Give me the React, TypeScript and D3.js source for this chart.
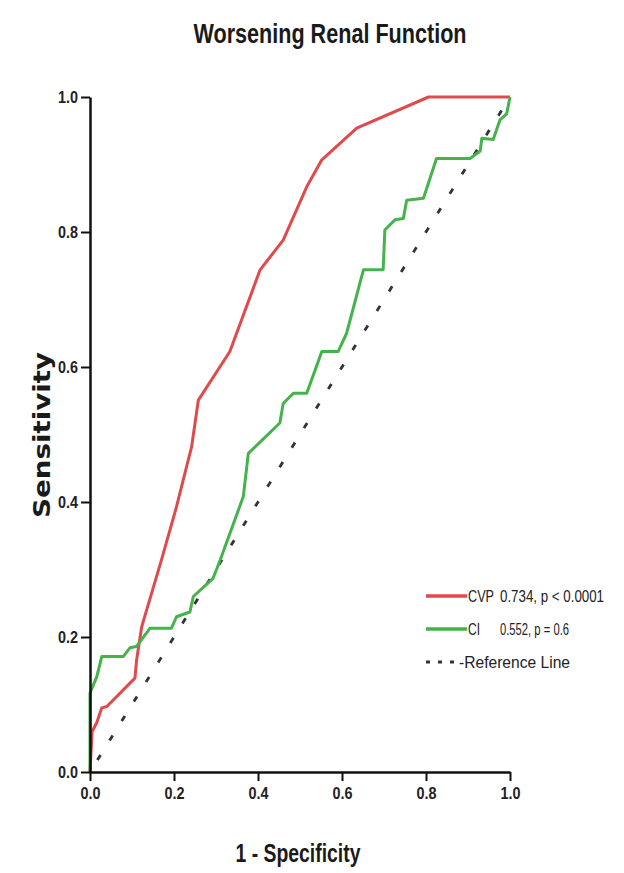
import React, { useEffect, useRef } from "react";
import * as d3 from "d3";

// ROC points
const cvpFpr = [0, 0.005, 0.016, 0.028, 0.04, 0.107, 0.111, 0.123, 0.17, 0.206, 0.242, 0.258, 0.333, 0.405, 0.46, 0.516, 0.552, 0.635, 0.806, 1.0];
const cvpTpr = [0, 0.06, 0.073, 0.095, 0.097, 0.139, 0.166, 0.215, 0.314, 0.393, 0.482, 0.551, 0.623, 0.744, 0.788, 0.867, 0.907, 0.954, 1.0, 1.0];

const ciFpr = [0, 0, 0.016, 0.028, 0.079, 0.095, 0.111, 0.143, 0.194, 0.206, 0.238, 0.246, 0.293, 0.31, 0.365, 0.377, 0.452, 0.46, 0.484, 0.516, 0.552, 0.591, 0.611, 0.651, 0.698, 0.702, 0.726, 0.746, 0.754, 0.794, 0.825, 0.905, 0.929, 0.933, 0.96, 0.976, 0.992, 1.0];
const ciTpr = [0, 0.117, 0.141, 0.171, 0.171, 0.184, 0.186, 0.213, 0.213, 0.23, 0.237, 0.26, 0.287, 0.314, 0.408, 0.472, 0.517, 0.546, 0.561, 0.561, 0.623, 0.623, 0.65, 0.744, 0.744, 0.803, 0.818, 0.82, 0.847, 0.85, 0.909, 0.909, 0.92, 0.939, 0.937, 0.966, 0.975, 1.0];

const refLine = [0, 1];
const ticks = [0, 0.2, 0.4, 0.6, 0.8, 1.0];

const legendNames = ["CVP", "CI", "Reference Line"];
const legendStats = ["0.734, p < 0.0001", "0.552, p = 0.6", ""];

const RED = "#e04a4c";
const GREEN = "#45b34b";
const sans = "'Liberation Sans', Arial, sans-serif";

const App = () => {
  const xAxisRef = useRef<SVGGElement>(null);
  const yAxisRef = useRef<SVGGElement>(null);

  const x = d3.scaleLinear().domain([0, 1]).range([90, 510]);
  const y = d3.scaleLinear().domain([0, 1]).range([772, 97]);

  const line = d3
    .line<[number, number]>()
    .x((d) => x(d[0]))
    .y((d) => y(d[1]));

  const cvp = cvpFpr.map((v, i) => [v, cvpTpr[i]] as [number, number]);
  const ci = ciFpr.map((v, i) => [v, ciTpr[i]] as [number, number]);
  const ref = refLine.map((v) => [v, v] as [number, number]);

  useEffect(() => {
    const fmt = d3.format(".1f");
    const xa = d3.select(xAxisRef.current);
    xa.call(d3.axisBottom(x).tickValues(ticks).tickFormat(fmt as any).tickSize(9).tickSizeOuter(0).tickPadding(7));
    const ya = d3.select(yAxisRef.current);
    ya.call(d3.axisLeft(y).tickValues(ticks).tickFormat(fmt as any).tickSize(9).tickSizeOuter(0).tickPadding(3));
    [xa, ya].forEach((g) => {
      g.select(".domain").attr("stroke", "#111").attr("stroke-width", 2.5);
      g.selectAll(".tick line").attr("stroke", "#111").attr("stroke-width", 2);
      g.selectAll(".tick text")
        .attr("fill", "#222")
        .attr("textLength", 20)
        .attr("lengthAdjust", "spacingAndGlyphs")
        .style("font-family", sans)
        .style("font-weight", "bold")
        .style("font-size", "16px");
    });
  }, []);

  return (
    <div style={{ position: "absolute", left: 0, top: 0 }}>
      <svg width={624} height={873} style={{ display: "block", background: "#fff" }}>
        <text
          x={330}
          y={43}
          textAnchor="middle"
          fontFamily={sans}
          fontWeight="bold"
          fontSize={28}
          textLength={273}
          lengthAdjust="spacingAndGlyphs"
          fill="#1a1a1a"
        >
          Worsening Renal Function
        </text>

        <path d={line(ref) ?? ""} fill="none" stroke="#333" strokeWidth={2.8} strokeDasharray="6 17" strokeDashoffset={-14} />
        <path d={line(cvp) ?? ""} fill="none" stroke={RED} strokeWidth={3} strokeLinejoin="round" />
        <path d={line(ci) ?? ""} fill="none" stroke={GREEN} strokeWidth={3} strokeLinejoin="round" />

        <g ref={xAxisRef} transform={`translate(0,${y(0)})`} />
        <g ref={yAxisRef} transform={`translate(${x(0)},0)`} />

        <text
          x={298}
          y={862}
          textAnchor="middle"
          fontFamily={sans}
          fontWeight="bold"
          fontSize={25}
          textLength={125}
          lengthAdjust="spacingAndGlyphs"
          fill="#1a1a1a"
        >
          1 - Specificity
        </text>
        <text
          transform={`translate(50,435) rotate(-90)`}
          textAnchor="middle"
          fontFamily="'DejaVu Sans', sans-serif"
          fontWeight="bold"
          fontSize={23}
          textLength={166}
          lengthAdjust="spacingAndGlyphs"
          fill="#1a1a1a"
        >
          Sensitivity
        </text>

        <g fontFamily={sans} fill="#222">
          {legendNames.map((name, i) => {
            const ly = 596 + i * 33;
            const isRef = i === 2;
            return (
              <g key={name}>
                <line
                  x1={426}
                  x2={isRef ? 460 : 467}
                  y1={ly}
                  y2={ly}
                  stroke={i === 0 ? RED : i === 1 ? GREEN : "#333"}
                  strokeWidth={isRef ? 3 : 3.5}
                  strokeDasharray={isRef ? "4 8" : undefined}
                />
                <text
                  x={isRef ? 459 : 468}
                  y={ly + 6}
                  fontSize={17}
                  textLength={isRef ? 111 : i === 0 ? 26 : 12}
                  lengthAdjust="spacingAndGlyphs"
                >
                  {isRef ? "-" + name : name}
                </text>
                {legendStats[i] && (
                  <text x={500} y={ly + 6} fontSize={16} textLength={i === 0 ? 104 : 69} lengthAdjust="spacingAndGlyphs">
                    {legendStats[i]}
                  </text>
                )}
              </g>
            );
          })}
        </g>
      </svg>
    </div>
  );
};

export default App;
